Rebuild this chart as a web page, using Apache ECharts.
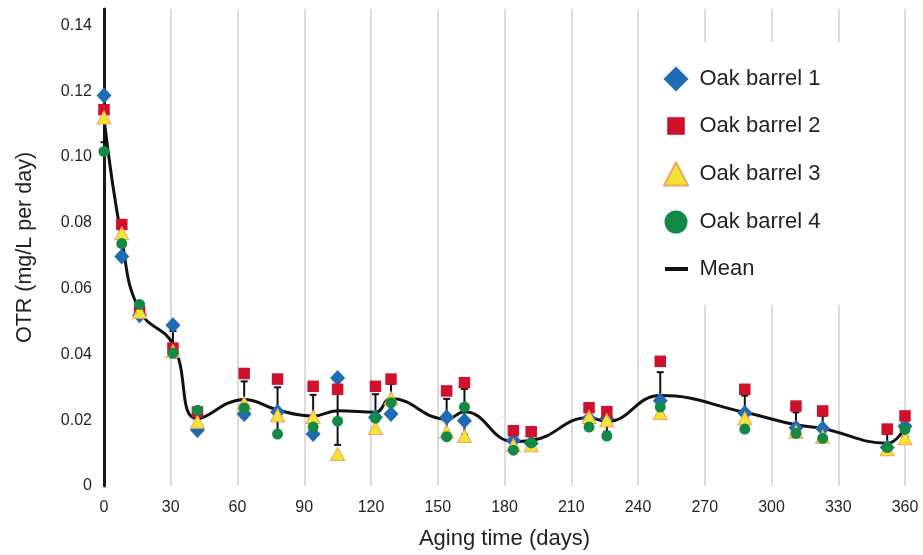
<!DOCTYPE html>
<html>
<head>
<meta charset="utf-8">
<script src="https://cdn.jsdelivr.net/npm/echarts@6/dist/echarts.min.js"></script>
<style>html,body{margin:0;padding:0;background:#fff}#c{width:923px;height:555px}</style>
</head>
<body>
<div id="c"></div>
<script>
const days = [0, 8, 16, 31, 42, 63, 78, 94, 105, 122, 129, 154, 162, 184, 192, 218, 226, 250, 288, 311, 323, 352, 360];
const barrel1 = [0.1187, 0.0698, 0.0519, 0.0489, 0.0170, 0.0219, 0.0225, 0.0158, 0.0328, 0.0209, 0.0219, 0.0209, 0.0198, 0.0138, 0.0130, 0.0205, 0.0205, 0.0259, 0.0222, 0.0177, 0.0175, 0.0117, 0.0182];
const barrel2 = [0.1144, 0.0795, 0.0530, 0.0419, 0.0225, 0.0342, 0.0325, 0.0303, 0.0294, 0.0303, 0.0325, 0.0289, 0.0314, 0.0168, 0.0165, 0.0238, 0.0226, 0.0379, 0.0294, 0.0243, 0.0228, 0.0173, 0.0213];
const barrel3 = [0.1120, 0.0768, 0.0530, 0.0410, 0.0195, 0.0252, 0.0215, 0.0210, 0.0097, 0.0176, 0.0267, 0.0165, 0.0152, 0.0124, 0.0124, 0.0210, 0.0200, 0.0222, 0.0206, 0.0165, 0.0150, 0.0112, 0.0145];
const barrel4 = [0.1017, 0.0737, 0.0552, 0.0404, 0.0230, 0.0237, 0.0158, 0.0179, 0.0197, 0.0206, 0.0253, 0.0150, 0.0240, 0.0109, 0.0131, 0.0179, 0.0152, 0.0240, 0.0173, 0.0160, 0.0145, 0.0117, 0.0172];
const meanOTR = [0.1117, 0.0750, 0.0533, 0.0431, 0.0205, 0.0263, 0.0231, 0.0213, 0.0229, 0.0224, 0.0266, 0.0203, 0.0226, 0.0135, 0.0138, 0.0208, 0.0196, 0.0275, 0.0224, 0.0186, 0.0175, 0.0130, 0.0178];
const sdOTR = [0.0072, 0.0042, 0.0014, 0.0040, 0.0028, 0.0055, 0.0069, 0.0064, 0.0104, 0.0055, 0.0044, 0.0062, 0.0069, 0.0025, 0.0019, 0.0024, 0.0031, 0.0071, 0.0051, 0.0038, 0.0038, 0.0029, 0.0028];
const seriesNames = ['Oak barrel 1', 'Oak barrel 2', 'Oak barrel 3', 'Oak barrel 4', 'Mean'];
const xTitle = 'Aging time (days)';
const yTitle = 'OTR (mg/L per day)';

const FONT = '"Liberation Sans", Arial, Helvetica, sans-serif';
const TXT = '#231f20';
const pair = (ys) => days.map((d, i) => [d, ys[i]]);
const errData = days.map((d, i) => [d, meanOTR[i] - sdOTR[i], meanOTR[i] + sdOTR[i]]);

// legend icons: bounding box 0..31 x 0..25
const BB = 'M0,0 M31,25 ';
const icons = [
  'path://' + BB + 'M12.5,0 L25,12.5 L12.5,25 L0,12.5 Z',
  'path://' + BB + 'M3.7,3.7 L21.3,3.7 L21.3,21.3 L3.7,21.3 Z',
  'path://' + BB + 'M12.5,1 L24.5,24 L0.5,24 Z',
  'path://' + BB + 'M1,12.5 A11.5,11.5 0 1 1 24,12.5 A11.5,11.5 0 1 1 1,12.5 Z',
  'path://' + BB + 'M1.5,10.5 L24.5,10.5 L24.5,14.5 L1.5,14.5 Z'
];

const chart = echarts.init(document.getElementById('c'), null, {renderer: 'canvas'});
chart.setOption({
  animation: false,
  backgroundColor: '#fff',
  grid: {left: 104, right: 18, top: 9, bottom: 68, containLabel: false},
  xAxis: {
    type: 'value', min: 0, max: 360, interval: 30,
    name: xTitle, nameLocation: 'middle', nameGap: 42,
    nameTextStyle: {fontFamily: FONT, fontSize: 22, color: TXT},
    axisLine: {show: false}, axisTick: {show: false},
    axisLabel: {fontFamily: FONT, fontSize: 16, color: TXT, margin: 14},
    splitLine: {show: true, lineStyle: {color: '#cfcfcf', width: 1.5}}
  },
  yAxis: {
    type: 'value', min: 0, max: 0.145, interval: 0.02,
    name: yTitle, nameLocation: 'middle', nameGap: 68,
    nameTextStyle: {fontFamily: FONT, fontSize: 21.5, color: TXT},
    axisLine: {show: true, lineStyle: {color: '#1a1a1a', width: 3}},
    axisTick: {show: false},
    axisLabel: {fontFamily: FONT, fontSize: 16, color: TXT, margin: 12, showMaxLabel: false,
      formatter: v => v === 0 ? '0' : v.toFixed(2)},
    splitLine: {show: false}
  },
  legend: {
    orient: 'vertical', left: 642, top: 42,
    padding: [24.5, 70, 23.5, 20.5],
    backgroundColor: '#fff',
    itemWidth: 31, itemHeight: 25, itemGap: 22,
    textStyle: {fontFamily: FONT, fontSize: 22, color: TXT},
    data: seriesNames.map((n, i) => ({name: n, icon: icons[i]}))
  },
  series: [
    {
      name: 'Mean', type: 'line', data: pair(meanOTR), smooth: 0.45,
      showSymbol: false, symbol: 'none', color: '#111',
      lineStyle: {color: '#111', width: 3}, z: 2
    },
    {
      name: 'Mean', type: 'custom', data: errData, z: 3,
      encode: {x: 0, y: [1, 2]},
      renderItem: function (params, api) {
        const x = api.value(0);
        const lo = api.coord([x, api.value(1)]);
        const hi = api.coord([x, api.value(2)]);
        const hw = 3.5;
        const st = {stroke: '#111', lineWidth: 2};
        return {type: 'group', children: [
          {type: 'line', shape: {x1: lo[0], y1: lo[1], x2: hi[0], y2: hi[1]}, style: st},
          {type: 'line', shape: {x1: lo[0] - hw, y1: lo[1], x2: lo[0] + hw, y2: lo[1]}, style: st},
          {type: 'line', shape: {x1: hi[0] - hw, y1: hi[1], x2: hi[0] + hw, y2: hi[1]}, style: st}
        ]};
      }
    },
    {
      name: 'Oak barrel 1', type: 'scatter', data: pair(barrel1), symbol: 'diamond', symbolSize: [15, 16],
      itemStyle: {color: '#1f6cb4', opacity: 1}, z: 4
    },
    {
      name: 'Oak barrel 2', type: 'scatter', data: pair(barrel2), symbol: 'rect', symbolSize: 11.5,
      itemStyle: {color: '#cf112c', opacity: 1}, z: 5
    },
    {
      name: 'Oak barrel 3', type: 'scatter', data: pair(barrel3), symbol: 'triangle', symbolSize: [14, 13],
      itemStyle: {color: '#f3e533', borderColor: '#f2a45c', borderWidth: 1, opacity: 1}, z: 6
    },
    {
      name: 'Oak barrel 4', type: 'scatter', data: pair(barrel4), symbol: 'circle', symbolSize: 11,
      itemStyle: {color: '#128a46', opacity: 1}, z: 7
    }
  ]
});
</script>
</body>
</html>
